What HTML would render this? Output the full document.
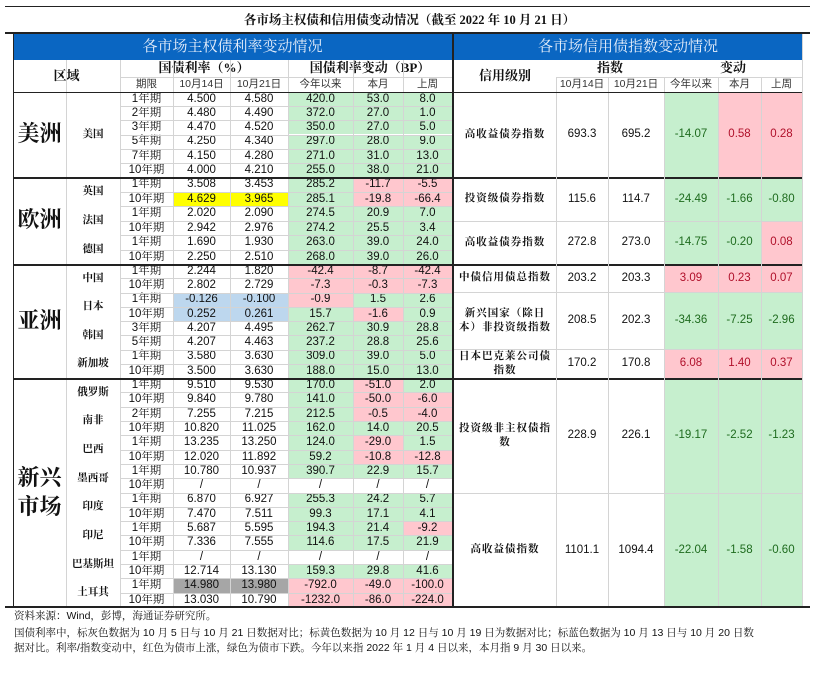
<!DOCTYPE html>
<html><head><meta charset="utf-8">
<style>
body{margin:0;width:819px;height:685px;background:#fff;position:relative;overflow:hidden;font-family:"Liberation Sans","Noto Sans CJK SC",sans-serif;}
.c{position:absolute;box-sizing:border-box;display:flex;align-items:center;justify-content:center;font-size:11.5px;color:#111;text-align:center;line-height:1.25;}
.cn{font-family:"Liberation Serif","Noto Serif CJK SC",serif;font-weight:bold;font-size:10.5px;}
.ln{position:absolute;background:#d4d4d4;}
.dk{position:absolute;background:#222;}
.note{position:absolute;left:14px;font-family:"Liberation Sans","Noto Serif CJK SC",serif;font-size:10.5px;color:#111;white-space:nowrap;}
</style></head><body>
<div class="dk" style="left:5px;top:6px;width:805px;height:1px"></div>
<div class="c cn" style="left:0;top:12px;width:819px;height:18px;font-size:12.5px">各市场主权债和信用债变动情况（截至 2022 年 10 月 21 日）</div>
<div class="dk" style="left:5px;top:32px;width:805px;height:2px"></div>
<div class="c" style="left:13px;top:34px;width:439px;height:26px;background:#0a66c2;color:#e6eefa;font-family:'Liberation Serif','Noto Serif CJK SC',serif;font-size:15px">各市场主权债利率变动情况</div>
<div class="c" style="left:454px;top:34px;width:348px;height:26px;background:#0a66c2;color:#e6eefa;font-family:'Liberation Serif','Noto Serif CJK SC',serif;font-size:15px">各市场信用债指数变动情况</div>
<div id="root"></div>
<div class="note" style="top:608px">资料来源：Wind，彭博，海通证券研究所。</div>
<div class="note" style="top:625px">国债利率中，标灰色数据为 10 月 5 日与 10 月 21 日数据对比；标黄色数据为 10 月 12 日与 10 月 19 日为数据对比；标蓝色数据为 10 月 13 日与 10 月 20 日数</div>
<div class="note" style="top:640px">据对比。利率/指数变动中，红色为债市上涨，绿色为债市下跌。今年以来指 2022 年 1 月 4 日以来，本月指 9 月 30 日以来。</div>
<script>
const G='#c6efce',R='#ffc7ce',W='#fff';
const regions=['美洲','欧洲','亚洲','新兴<br>市场'];
const regionY=[[92,177],[177,264],[264,378],[378,607]];
const countries=[['美国',0,6],['英国',1,2],['法国',1,2],['德国',1,2],['中国',2,2],['日本',2,2],['韩国',2,2],['新加坡',2,2],['俄罗斯',3,2],['南非',3,2],['巴西',3,2],['墨西哥',3,2],['印度',3,2],['印尼',3,2],['巴基斯坦',3,2],['土耳其',3,2]];
const tenors=['1年期','2年期','3年期','5年期','7年期','10年期','1年期','10年期','1年期','10年期','1年期','10年期','1年期','10年期','1年期','10年期','3年期','5年期','1年期','10年期','1年期','10年期','2年期','10年期','1年期','10年期','1年期','10年期','1年期','10年期','1年期','10年期','1年期','10年期','1年期','10年期'];
tenors.splice(24,0);
const rate1014=['4.500','4.480','4.470','4.250','4.150','4.000','3.508','4.629','2.020','2.942','1.690','2.250','2.244','2.802','-0.126','0.252','4.207','4.207','3.580','3.500','9.510','9.840','7.255','10.820','13.235','12.020','10.780','/','6.870','7.470','5.687','7.336','/','12.714','14.980','13.030'];
const rate1021=['4.580','4.490','4.520','4.340','4.280','4.210','3.453','3.965','2.090','2.976','1.930','2.510','1.820','2.729','-0.100','0.261','4.495','4.463','3.630','3.630','9.530','9.780','7.215','11.025','13.250','11.892','10.937','/','6.927','7.511','5.595','7.555','/','13.130','13.980','10.790'];
const chgYtd=['420.0','372.0','350.0','297.0','271.0','255.0','285.2','285.1','274.5','274.2','263.0','268.0','-42.4','-7.3','-0.9','15.7','262.7','237.2','309.0','188.0','170.0','141.0','212.5','162.0','124.0','59.2','390.7','/','255.3','99.3','194.3','114.6','/','159.3','-792.0','-1232.0'];
const chgMonth=['53.0','27.0','27.0','28.0','31.0','38.0','-11.7','-19.8','20.9','25.5','39.0','39.0','-8.7','-0.3','1.5','-1.6','30.9','28.8','39.0','15.0','-51.0','-50.0','-0.5','14.0','-29.0','-10.8','22.9','/','24.2','17.1','21.4','17.5','/','29.8','-49.0','-86.0'];
const chgWeek=['8.0','1.0','5.0','9.0','13.0','21.0','-5.5','-66.4','7.0','3.4','24.0','26.0','-42.4','-7.3','2.6','0.9','28.8','25.6','5.0','13.0','2.0','-6.0','-4.0','20.5','1.5','-12.8','15.7','/','5.7','4.1','-9.2','21.9','/','41.6','-100.0','-224.0'];
const fills=['GGG','GGG','GGG','GGG','GGG','GGG','GRR','GRR','GGG','GGG','GGG','GGG','RRR','RRR','RGG','GRG','GGG','GGG','GGG','GGG','GRG','GRR','GRR','GGG','GRG','GRR','GGG','WWW','GGG','GGG','GGR','GGG','WWW','GGG','RRR','RRR'];
const rateHi={7:'#ffff00',14:'#bdd7ee',15:'#bdd7ee',34:'#a6a6a6'};
const creditNames=['高收益债券指数','投资级债券指数','高收益债券指数','中债信用债总指数','新兴国家（除日本）非投资级指数','日本巴克莱公司债指数','投资级非主权债指数','高收益债指数'];
const idx1014=['693.3','115.6','272.8','203.2','208.5','170.2','228.9','1101.1'];
const idx1021=['695.2','114.7','273.0','203.3','202.3','170.8','226.1','1094.4'];
const cYtd=['-14.07','-24.49','-14.75','3.09','-34.36','6.08','-19.17','-22.04'];
const cMonth=['0.58','-1.66','-0.20','0.23','-7.25','1.40','-2.52','-1.58'];
const cWeek=['0.28','-0.80','0.08','0.07','-2.96','0.37','-1.23','-0.60'];
const creditY=[92,177,221,264,292,349,378,493,607];
const LX=[13,66,120,173,230,288,353,403,452], RX=[454,556,608,664,718,761,802];
const root=document.getElementById('root');
function cell(x,y,w,h,html,cls,bg,color,name){const d=document.createElement('div');d.className='c'+(cls?' '+cls:'');d.style.cssText=`left:${x}px;top:${y}px;width:${w}px;height:${h}px;`+(bg?`background:${bg};`:'')+(color?`color:${color};`:'');d.innerHTML=html;


root.appendChild(d);return d;}
function line(x,y,w,h,dark,name){const d=document.createElement('div');d.className=dark?'dk':'ln';d.style.cssText=`left:${x}px;top:${y}px;width:${w}px;height:${h}px`;


root.appendChild(d);}
// headers left
cell(13,60,107,32,'区域','cn',null,null,'region-header').style.fontSize='13px';
cell(120,60,168,17,'国债利率（%）','cn',null,null,'rate-header').style.fontSize='13px';
cell(288,60,164,17,'国债利率变动（BP）','cn',null,null,'change-header').style.fontSize='13px';
['期限','10月14日','10月21日','今年以来','本月','上周'].forEach((t,i)=>{cell(LX[i+2],77,LX[i+3]-LX[i+2],15,t,'',null,'#333','left-subheader').style.fontSize='10.5px';});
// headers right
cell(454,60,102,32,'信用级别','cn',null,null,'credit-grade-header').style.fontSize='13px';
cell(556,60,108,17,'指数','cn',null,null,'index-header').style.fontSize='13px';
cell(664,60,138,17,'变动','cn',null,null,'credit-change-header').style.fontSize='13px';
['10月14日','10月21日','今年以来','本月','上周'].forEach((t,i)=>{cell(RX[i+1],77,RX[i+2]-RX[i+1],15,t,'',null,'#333','right-subheader').style.fontSize='10.5px';});
// row geometry
const counts=[6,6,8,16];
const rowY=[];regionY.forEach((r,i)=>{const n=(i==3?16:counts[i]);const h=(r[1]-r[0])/n;for(let k=0;k<n;k++)rowY.push([r[0]+k*h,h]);});
regions.forEach((t,i)=>{const d=cell(13,regionY[i][0],53,regionY[i][1]-regionY[i][0],t,'cn',null,null,'region-label');d.style.fontSize='22px';d.style.lineHeight='1.3';});
let ri=0;countries.forEach(c=>{const y=rowY[ri][0],h=rowY[ri][1]*c[2];cell(66,y,54,h,c[0],'cn',null,null,'country-label');ri+=c[2];});
// data rows: 35 rows but Mexico has 2 rows (1Y,10Y) listed -> total 36 with adjusted tenors
const ten=['1年期','2年期','3年期','5年期','7年期','10年期','1年期','10年期','1年期','10年期','1年期','10年期','1年期','10年期','1年期','10年期','3年期','5年期','1年期','10年期','1年期','10年期','2年期','10年期','1年期','10年期','1年期','10年期','1年期','10年期','1年期','10年期','1年期','10年期','1年期','10年期'];
for(let i=0;i<36;i++){const [y,h]=rowY[i];
 cell(120,y,53,h,ten[i],'',null,null,'tenor-cell').style.fontFamily='"Liberation Sans","Noto Serif CJK SC",serif';
 cell(173,y,57,h,rate1014[i],'',rateHi[i]||null,null,'rate-1014-cell');
 cell(230,y,58,h,rate1021[i],'',rateHi[i]||null,null,'rate-1021-cell');
 const f=fills[i];const bg=ch=>ch=='G'?G:ch=='R'?R:W;
 cell(288,y,65,h,chgYtd[i],'',bg(f[0]),null,'change-ytd-cell');
 cell(353,y,50,h,chgMonth[i],'',bg(f[1]),null,'change-month-cell');
 cell(403,y,49,h,chgWeek[i],'',bg(f[2]),null,'change-week-cell');
 if(i>0 && !regionY.some(r=>Math.abs(r[0]-y)<0.5)) line(120,y,332,1,false,'row-gridline');
}
// right rows
for(let i=0;i<8;i++){const y=creditY[i],h=creditY[i+1]-y;
 const lb=cell(454,y,102,h,creditNames[i],'cn',null,null,'credit-index-name');lb.style.padding='0 4px';lb.style.letterSpacing='1px';
 cell(556,y,52,h,idx1014[i],'',null,null,'index-1014-cell');
 cell(608,y,56,h,idx1021[i],'',null,null,'index-1021-cell');
 [[cYtd,664,54,'credit-ytd-cell'],[cMonth,718,43,'credit-month-cell'],[cWeek,761,41,'credit-week-cell']].forEach(a=>{const v=a[0][i];const neg=v[0]=='-';cell(a[1],y,a[2],h,v,'',neg?G:R,neg?'#1e6b1e':'#b0102a',a[3]);});
 if(i>0){const dk=[1,3,6].includes(i);line(454,y,348,dk?2:1,dk,'credit-row-line');}
}
// grid verticals
[66,120,173,230,288,353,403].forEach(x=>line(x,60,1,547,false,'col-line'));
[556,608,664,718,761].forEach(x=>line(x,77,1,530,false,'col-line'));
line(66,60,1,32,false,'col-line');
line(120,77,332,1,false,'header-line');line(556,77,246,1,false,'header-line');
line(13,92,439,1,true,'header-bottom');line(454,92,348,1,true,'header-bottom');
[177,264,378].forEach(y=>line(13,y,439,2,true,'region-separator'));
line(13,34,1,573,true,'left-border');line(452,34,2,573,true,'center-divider');line(802,34,1,573,false,'right-border');
line(5,606,805,2,true,'bottom-rule');
</script>
</body></html>
